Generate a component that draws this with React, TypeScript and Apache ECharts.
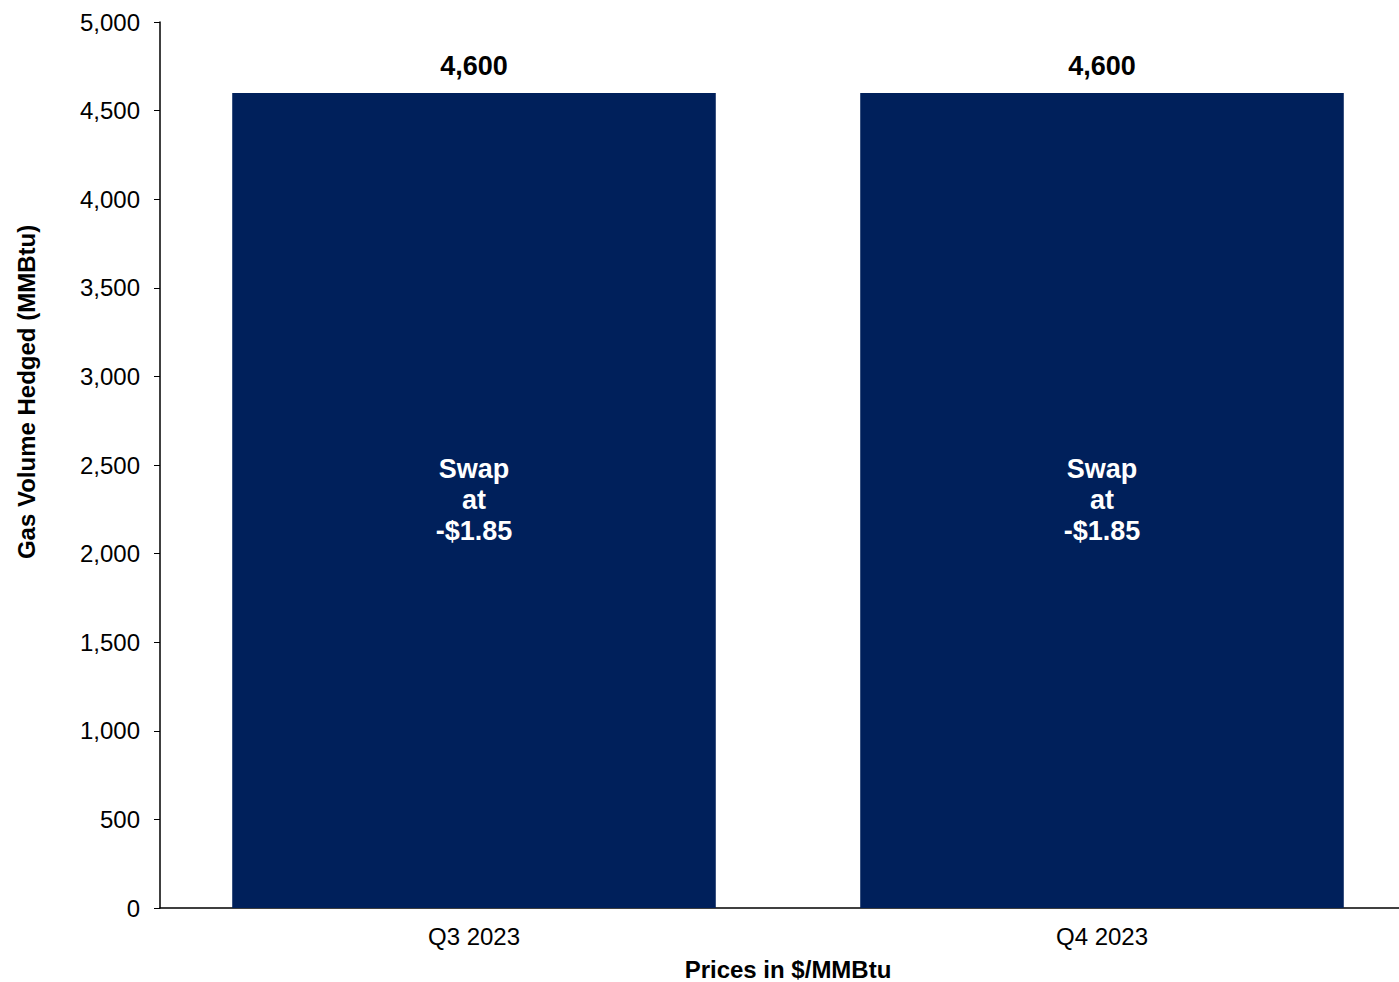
import React, { useEffect, useRef } from "react";
import * as echarts from "echarts";

const categories = ["Q3 2023", "Q4 2023"];
const volumes = [4600, 4600];
const innerLabels = ["Swap\nat\n-$1.85", "Swap\nat\n-$1.85"];
const yTicks = { min: 0, max: 5000, interval: 500 };

const FONT = "Arial, 'Liberation Sans', Helvetica, sans-serif";

export default function App() {
  const ref = useRef<HTMLDivElement>(null);
  useEffect(() => {
    const chart = echarts.init(ref.current!, null, { renderer: "svg" });
    chart.setOption({
      animation: false,
      backgroundColor: "#ffffff",
      grid: { left: 160, top: 22, width: 1256, height: 886, containLabel: false },
      xAxis: {
        type: "category",
        data: categories,
        axisLine: { lineStyle: { color: "#000000", width: 1.5 } },
        axisTick: { show: false },
        axisLabel: { color: "#000", fontSize: 24, fontFamily: FONT, margin: 16 },
      },
      yAxis: {
        type: "value",
        min: yTicks.min,
        max: yTicks.max,
        interval: yTicks.interval,
        axisLine: { show: true, lineStyle: { color: "#000000", width: 1.5 } },
        axisTick: { show: true, length: 6, lineStyle: { color: "#000" } },
        splitLine: { show: false },
        axisLabel: {
          color: "#000",
          fontSize: 24,
          fontFamily: FONT,
          margin: 20,
          formatter: (v: number) => v.toLocaleString("en-US"),
        },
      },
      series: [
        {
          type: "bar",
          data: volumes.map((v, i) => ({ value: v, label: { formatter: innerLabels[i] } })),
          barWidth: "77%",
          itemStyle: { color: "#00205B" },
          label: {
            show: true,
            position: "inside",
            color: "#ffffff",
            fontSize: 27,
            fontWeight: "bold",
            fontFamily: FONT,
            lineHeight: 31,
            align: "center",
          },
        },
        {
          type: "bar",
          data: volumes,
          barWidth: "77%",
          barGap: "-100%",
          itemStyle: { color: "transparent" },
          silent: true,
          label: {
            show: true,
            position: "top",
            distance: 13,
            color: "#000",
            fontSize: 27,
            fontWeight: "bold",
            fontFamily: FONT,
            formatter: (p: any) => Number(p.value).toLocaleString("en-US"),
          },
        },
      ],
      graphic: [
        {
          type: "text",
          x: 26,
          y: 392,
          rotation: Math.PI / 2,
          style: {
            text: "Gas Volume Hedged (MMBtu)",
            fontSize: 24,
            fontWeight: "bold",
            fontFamily: FONT,
            fill: "#000",
            align: "center",
            verticalAlign: "middle",
          },
        },
        {
          type: "text",
          x: 788,
          y: 969,
          style: {
            text: "Prices in $/MMBtu",
            fontSize: 24,
            fontWeight: "bold",
            fontFamily: FONT,
            fill: "#000",
            align: "center",
            verticalAlign: "middle",
          },
        },
      ],
    });
    return () => chart.dispose();
  }, []);
  return (
    <div style={{ position: "absolute", left: 0, top: 0, width: 1399, height: 982, overflow: "hidden" }}>
      <div ref={ref} style={{ width: 1420, height: 982 }} />
    </div>
  );
}
